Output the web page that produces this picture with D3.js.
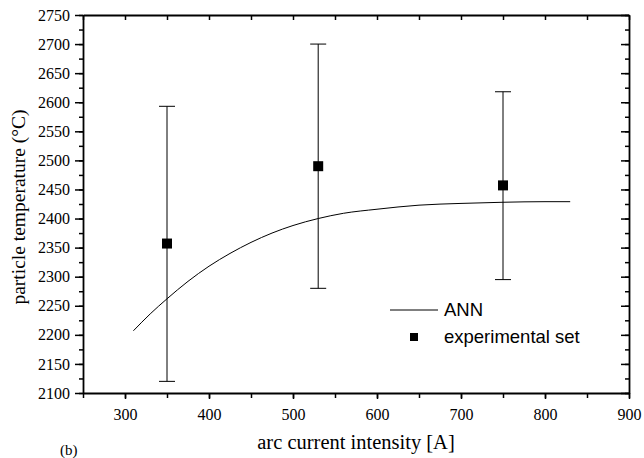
<!DOCTYPE html>
<html>
<head>
<meta charset="utf-8">
<script src="https://cdn.jsdelivr.net/npm/d3@7"></script>
<style>
  body { margin: 0; background: #fff; }
  svg text { font-family: "Liberation Serif", "Times New Roman", serif; }
  svg .legend text { font-family: "Liberation Sans", Arial, sans-serif; }
</style>
</head>
<body>
<svg width="644" height="458"></svg>
<script>
// experimental points with error bars
const expCurrent = [350, 530, 750]
const expTemp = [2357, 2490, 2457]
const expHigh = [2593, 2700, 2618]
const expLow = [2120, 2280, 2295]

// ANN prediction curve
const annCurrent = [310, 330, 350, 375, 400, 425, 450, 475, 500, 530, 560, 600, 650, 700, 750, 800, 830]
const annTemp = [2207, 2236, 2262, 2292, 2318, 2340, 2359, 2375, 2388, 2400, 2409, 2416, 2423, 2426, 2428, 2429, 2429]

const xTicks = [300, 400, 500, 600, 700, 800, 900]
const yTicks = [2100, 2150, 2200, 2250, 2300, 2350, 2400, 2450, 2500, 2550, 2600, 2650, 2700, 2750]

const margin = {top: 15, right: 15, bottom: 65, left: 83}
const width = 644
const height = 458

const svg = d3.select('svg')

const x = d3.scaleLinear()
  .domain([250, 900])
  .range([margin.left, width - margin.right])

const y = d3.scaleLinear()
  .domain([2100, 2750])
  .range([height - margin.bottom, margin.top])

const xMinor = d3.range(250, 901, 50)
const yMinor = d3.range(2100, 2751, 25)

// bottom axis
svg.append('g')
  .attr('transform', `translate(0, ${y(2100)})`)
  .call(d3.axisBottom(x).tickValues(xMinor).tickSize(5).tickFormat(''))
  .call(g => g.select('.domain').remove())
svg.append('g')
  .attr('class', 'x-axis')
  .attr('transform', `translate(0, ${y(2100)})`)
  .call(d3.axisBottom(x).tickValues(xTicks).tickSize(6).tickPadding(10).tickSizeOuter(0).tickFormat(d3.format('d')))
  .call(g => g.selectAll('text').attr('font-size', 16))

// left axis
svg.append('g')
  .attr('transform', `translate(${x(250)}, 0)`)
  .call(d3.axisLeft(y).tickValues(yMinor).tickSize(4).tickFormat(''))
  .call(g => g.select('.domain').remove())
svg.append('g')
  .attr('class', 'y-axis')
  .attr('transform', `translate(${x(250)}, 0)`)
  .call(d3.axisLeft(y).tickValues(yTicks).tickSize(8).tickPadding(5).tickSizeOuter(0).tickFormat(d3.format('d')))
  .call(g => g.selectAll('text').attr('font-size', 16))

// top axis, ticks inward
svg.append('g')
  .attr('transform', `translate(0, ${y(2750)})`)
  .call(d3.axisBottom(x).tickValues(xMinor).tickSize(5).tickFormat('').tickSizeOuter(0))

// right axis, ticks inward
svg.append('g')
  .attr('transform', `translate(${x(900)}, 0)`)
  .call(d3.axisLeft(y).tickValues(yMinor).tickSize(4).tickFormat('').tickSizeOuter(0))
svg.append('g')
  .attr('transform', `translate(${x(900)}, 0)`)
  .call(d3.axisLeft(y).tickValues(yTicks).tickSize(8).tickFormat('').tickSizeOuter(0))
  .call(g => g.select('.domain').remove())

svg.selectAll('.domain').attr('stroke-width', 1.8)
svg.selectAll('.tick line').attr('stroke-width', 1.5)

// ANN line
const line = d3.line()
  .x((d, i) => x(annCurrent[i]))
  .y(d => y(d))
  .curve(d3.curveMonotoneX)

svg.append('path')
  .datum(annTemp)
  .attr('fill', 'none')
  .attr('stroke', '#000')
  .attr('stroke-width', 1)
  .attr('d', line)

// error bars
const bars = svg.append('g').attr('stroke', '#000').attr('stroke-width', 1)
expCurrent.forEach((c, i) => {
  bars.append('line')
    .attr('x1', x(c)).attr('x2', x(c))
    .attr('y1', y(expLow[i])).attr('y2', y(expHigh[i]))
  bars.append('line')
    .attr('x1', x(c) - 8).attr('x2', x(c) + 8)
    .attr('y1', y(expLow[i])).attr('y2', y(expLow[i]))
  bars.append('line')
    .attr('x1', x(c) - 8).attr('x2', x(c) + 8)
    .attr('y1', y(expHigh[i])).attr('y2', y(expHigh[i]))
})

svg.append('g')
  .selectAll('rect')
  .data(expTemp)
  .join('rect')
  .attr('x', (d, i) => x(expCurrent[i]) - 5)
  .attr('y', d => y(d) - 5)
  .attr('width', 10)
  .attr('height', 10)
  .attr('fill', '#000')

// legend
const legend = svg.append('g')
  .attr('class', 'legend')
  .attr('font-size', 18.5)
legend.append('line')
  .attr('x1', 390).attr('x2', 438)
  .attr('y1', 310).attr('y2', 310)
  .attr('stroke', '#000')
legend.append('text').attr('x', 444).attr('y', 316).text('ANN')
legend.append('rect')
  .attr('x', 410).attr('y', 333).attr('width', 8).attr('height', 8)
legend.append('text').attr('x', 444).attr('y', 343).text('experimental set')

// axis titles
svg.append('text')
  .attr('x', 356).attr('y', 449)
  .attr('text-anchor', 'middle')
  .attr('font-size', 20.5)
  .text('arc current intensity [A]')

svg.append('text')
  .attr('transform', 'translate(25, 207) rotate(-90)')
  .attr('text-anchor', 'middle')
  .attr('font-size', 19.5)
  .text('particle temperature (°C)')

svg.append('text')
  .attr('x', 60).attr('y', 455)
  .attr('font-size', 15)
  .text('(b)')
</script>
</body>
</html>
